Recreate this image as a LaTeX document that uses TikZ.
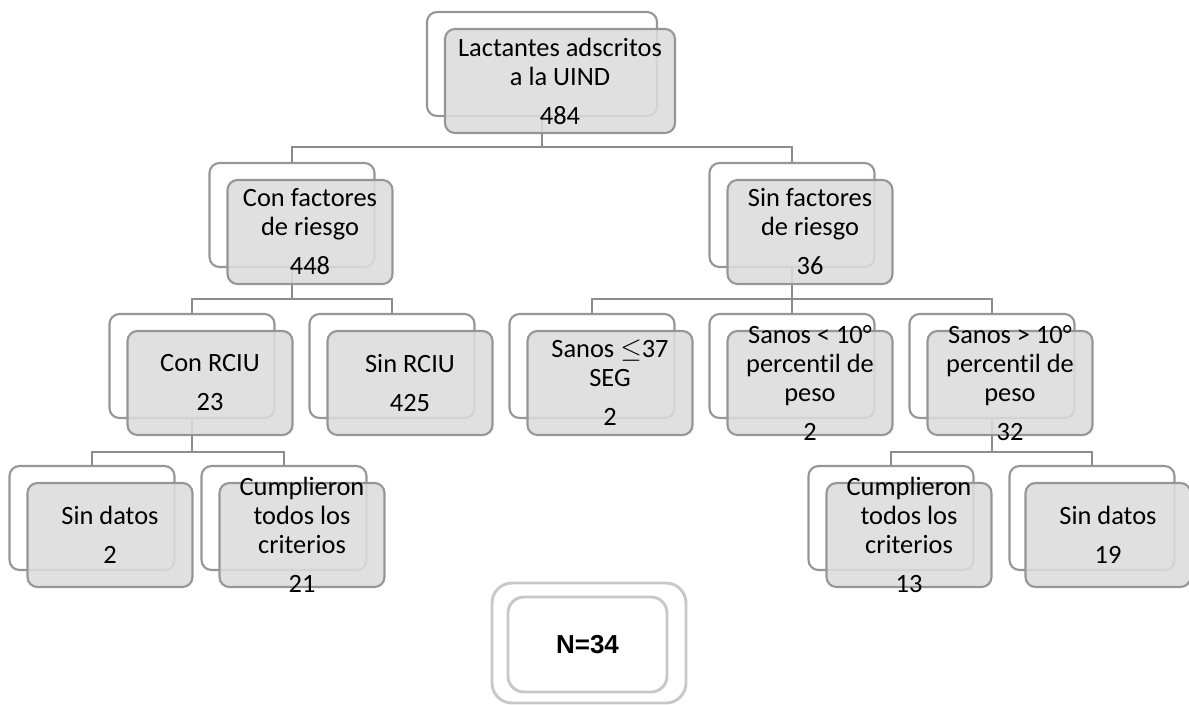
\documentclass[tikz,border=0pt]{standalone}
\usepackage{fontspec}
\setmainfont[Ligatures=NoCommon]{Carlito}
\newfontfamily\arialfont{Liberation Sans}
\definecolor{linec}{RGB}{140,140,140}
\definecolor{boxc}{RGB}{150,150,150}
\definecolor{frontc}{RGB}{220,220,220}
\definecolor{nline}{RGB}{200,200,200}
\begin{document}
\begin{tikzpicture}[x=0.75pt,y=-0.75pt,
  backbox/.style={draw=boxc, line width=1.6pt, fill=white, rounded corners=7.5pt,
    minimum width=123.75pt, minimum height=78pt, inner sep=0pt},
  frontbox/.style={draw=boxc, line width=1.6pt, fill=frontc, fill opacity=0.88,
    rounded corners=7.5pt, minimum width=123.75pt, minimum height=78pt, inner sep=0pt},
  widebox/.style={minimum width=172.5pt},
  txt/.style={align=center, font=\fontsize{19.8}{21.75}\selectfont, inner sep=0pt},
  conn/.style={draw=linec, line width=1.5pt},
  nbox/.style={draw=nline, line width=2.2pt, rounded corners=12pt, inner sep=0pt},
]
\useasboundingbox (0,0) rectangle (1189,704);

% back boxes
\node[backbox,widebox] (b1) at (542,64) {};
\node[backbox] (b2a) at (292,215) {};
\node[backbox] (b2b) at (792,215) {};
\node[backbox] (b3a) at (192,366) {};
\node[backbox] (b3b) at (392,366) {};
\node[backbox] (b3c) at (592,366) {};
\node[backbox] (b3d) at (792,366) {};
\node[backbox] (b3e) at (992,366) {};
\node[backbox] (b4a) at (92,518) {};
\node[backbox] (b4b) at (284,518) {};
\node[backbox] (b4c) at (891,518) {};
\node[backbox] (b4d) at (1092,518) {};

% junctions
\coordinate (j1) at (542,147);
\coordinate (j2) at (292,299);
\coordinate (j3) at (792,299);
\coordinate (j4) at (192,452);
\coordinate (j5) at (992,452);

% connectors
\draw[conn] (b1.south) -- (j1);
\draw[conn] (j1) -| (b2a.north);
\draw[conn] (j1) -| (b2b.north);
\draw[conn] (b2a.south) -- (j2);
\draw[conn] (j2) -| (b3a.north);
\draw[conn] (j2) -| (b3b.north);
\draw[conn] (b2b.south) -- (j3);
\draw[conn] (j3) -| (b3c.north);
\draw[conn] (j3) -| (b3d.north);
\draw[conn] (j3) -| (b3e.north);
\draw[conn] (b3a.south) -- (j4);
\draw[conn] (j4) -| (b4a.north);
\draw[conn] (j4) -| (b4b.north);
\draw[conn] (b3e.south) -- (j5);
\draw[conn] (j5) -| (b4c.north);
\draw[conn] (j5) -| (b4d.north);

% front boxes
\node[frontbox,widebox] (f1) at (560,81) {};
\node[frontbox] (f2a) at (310,232) {};
\node[frontbox] (f2b) at (810,232) {};
\node[frontbox] (f3a) at (210,383) {};
\node[frontbox] (f3b) at (410,383) {};
\node[frontbox] (f3c) at (610,383) {};
\node[frontbox] (f3d) at (810,383) {};
\node[frontbox] (f3e) at (1010,383) {};
\node[frontbox] (f4a) at (110,535) {};
\node[frontbox] (f4b) at (302,535) {};
\node[frontbox] (f4c) at (909,535) {};
\node[frontbox] (f4d) at (1108,535) {};

% texts
\node[txt] (t1) at (f1) {Lactantes adscritos\\a la UIND\\[7.5pt]484};
\node[txt] (t2a) at (f2a) {Con factores\\de riesgo\\[7.5pt]448};
\node[txt] (t2b) at (f2b) {Sin factores\\de riesgo\\[7.5pt]36};
\node[txt] (t3a) at (f3a) {Con RCIU\\[7.5pt]23};
\node[txt] (t3b) at (f3b) {Sin RCIU\\[7.5pt]425};
\node[txt] (t3c) at (f3c) {Sanos $\leq$37\\SEG\\[7.5pt]2};
\node[txt] (t3d) at (f3d) {Sanos < 10°\\percentil de\\peso\\[7.5pt]2};
\node[txt] (t3e) at (f3e) {Sanos > 10°\\percentil de\\peso\\[7.5pt]32};
\node[txt] (t4a) at (f4a) {Sin datos\\[7.5pt]2};
\node[txt] (t4b) at (f4b) {Cumplieron\\todos los\\criterios\\[7.5pt]21};
\node[txt] (t4c) at (f4c) {Cumplieron\\todos los\\criterios\\[7.5pt]13};
\node[txt] (t4d) at (f4d) {Sin datos\\[7.5pt]19};

% N=34 box
\node[nbox, minimum width=145.5pt, minimum height=90pt, rounded corners=15pt] (nout) at (589,643) {};
\node[nbox, minimum width=119.25pt, minimum height=71.25pt] (nin) at (587.5,644.5) {};
\node[font=\arialfont\bfseries\fontsize{19.5}{22}\selectfont, inner sep=0pt] (ntxt) at (nin) {N=34};
\end{tikzpicture}
\end{document}
